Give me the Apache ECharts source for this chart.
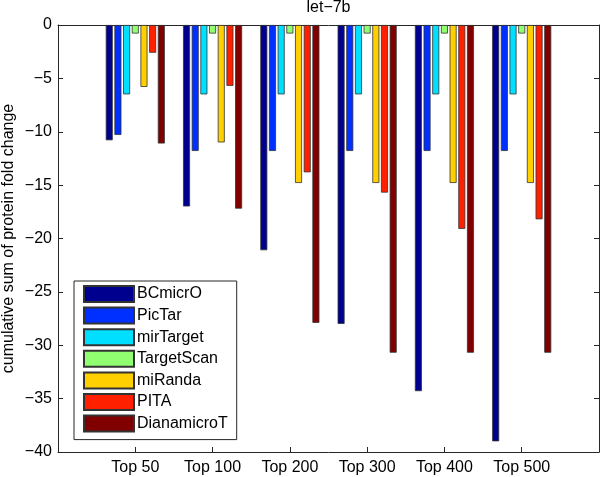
<!DOCTYPE html>
<html>
<head>
<meta charset="utf-8">
<script src="https://cdn.jsdelivr.net/npm/echarts@6/dist/echarts.min.js"></script>
<style>
html,body{margin:0;padding:0;background:#fff;}
#chart{width:600px;height:477px;}
</style>
</head>
<body>
<div id="chart"></div>
<script>
var categories = ['Top 50', 'Top 100', 'Top 200', 'Top 300', 'Top 400', 'Top 500'];
var BCmicrO     = [-10.8, -17.0, -21.1, -28.0, -34.3, -39.0];
var PicTar      = [-10.3, -11.8, -11.8, -11.8, -11.8, -11.8];
var mirTarget   = [-6.5, -6.5, -6.5, -6.5, -6.5, -6.5];
var TargetScan  = [-0.8, -0.8, -0.8, -0.8, -0.8, -0.8];
var miRanda     = [-5.8, -11.0, -14.8, -14.8, -14.8, -14.8];
var PITA        = [-2.6, -5.7, -13.8, -15.7, -19.1, -18.2];
var DianamicroT = [-11.1, -17.2, -27.9, -30.7, -30.7, -30.7];
var seriesNames = ['BCmicrO', 'PicTar', 'mirTarget', 'TargetScan', 'miRanda', 'PITA', 'DianamicroT'];
var seriesData = [BCmicrO, PicTar, mirTarget, TargetScan, miRanda, PITA, DianamicroT];
var colors = ['#00008F', '#0030FF', '#00DFFF', '#90FF70', '#FFCF00', '#FF2000', '#800000'];
var yTicks = [0, -5, -10, -15, -20, -25, -30, -35, -40];

var FONT = '"Liberation Sans", Arial, Helvetica, sans-serif';
var AX = '#262626';

var chart = echarts.init(document.getElementById('chart'), null, {renderer: 'canvas'});

var series = seriesNames.map(function (name, k) {
  return {
    name: name,
    type: 'bar',
    barWidth: 7,
    barGap: '24%',
    itemStyle: {color: colors[k], borderColor: '#333', borderWidth: 0.8},
    data: seriesData[k].map(function (v, i) { return [i + 1, v]; })
  };
});

chart.setOption({
  animation: false,
  backgroundColor: '#fff',
  color: colors,
  textStyle: {fontFamily: FONT},
  title: {
    text: 'let\u22127b',
    left: 328.5, textAlign: 'center',
    top: 0, padding: 0,
    textStyle: {fontFamily: FONT, fontSize: 16, fontWeight: 'normal', color: '#000', lineHeight: 16}
  },
  legend: {
    orient: 'vertical',
    left: 74, top: 281,
    padding: [4, 9, 7, 9],
    itemWidth: 50, itemHeight: 16, itemGap: 3.6,
    backgroundColor: '#fff',
    borderColor: AX, borderWidth: 1,
    icon: 'rect',
    textStyle: {fontFamily: FONT, fontSize: 16, color: '#000', lineHeight: 16, padding: [0, 0, 0, -2]},
    data: seriesNames
  },
  grid: {left: 58, right: 1, top: 25, bottom: 25, containLabel: false, outerBoundsMode: 'none'},
  xAxis: [{
    type: 'value', min: 0, max: 7, interval: 1,
    axisLine: {show: true, onZero: false, lineStyle: {color: AX, width: 1}},
    axisTick: {show: true, inside: true, length: 5, lineStyle: {color: AX}},
    splitLine: {show: false},
    axisLabel: {
      margin: 8, fontFamily: FONT, fontSize: 16, color: '#000',
      formatter: function (v) { return categories[v - 1] || ''; }
    }
  }, {
    type: 'value', min: 0, max: 7, interval: 1, position: 'top',
    axisLine: {show: true, onZero: false, lineStyle: {color: AX, width: 1}},
    axisTick: {show: true, inside: true, length: 5, lineStyle: {color: AX}},
    splitLine: {show: false},
    axisLabel: {show: false}
  }],
  yAxis: [{
    type: 'value', min: -40, max: 0, interval: 5,
    name: 'cumulative sum of protein fold change',
    nameLocation: 'middle', nameRotate: 90, nameGap: 41, nameMoveOverlap: false,
    nameTextStyle: {fontFamily: FONT, fontSize: 16, color: '#000'},
    axisLine: {show: true, onZero: false, lineStyle: {color: AX, width: 1}},
    axisTick: {show: true, inside: true, length: 5, lineStyle: {color: AX}},
    splitLine: {show: false},
    axisLabel: {
      margin: 6, fontFamily: FONT, fontSize: 16, color: '#000',
      formatter: function (v) { return yTicks.indexOf(v) >= 0 ? String(v).replace('-', '\u2212') : ''; }
    }
  }, {
    type: 'value', min: -40, max: 0, interval: 5, position: 'right',
    axisLine: {show: true, onZero: false, lineStyle: {color: AX, width: 1}},
    axisTick: {show: true, inside: true, length: 5, lineStyle: {color: AX}},
    splitLine: {show: false},
    axisLabel: {show: false}
  }],
  series: series
});
</script>
</body>
</html>
